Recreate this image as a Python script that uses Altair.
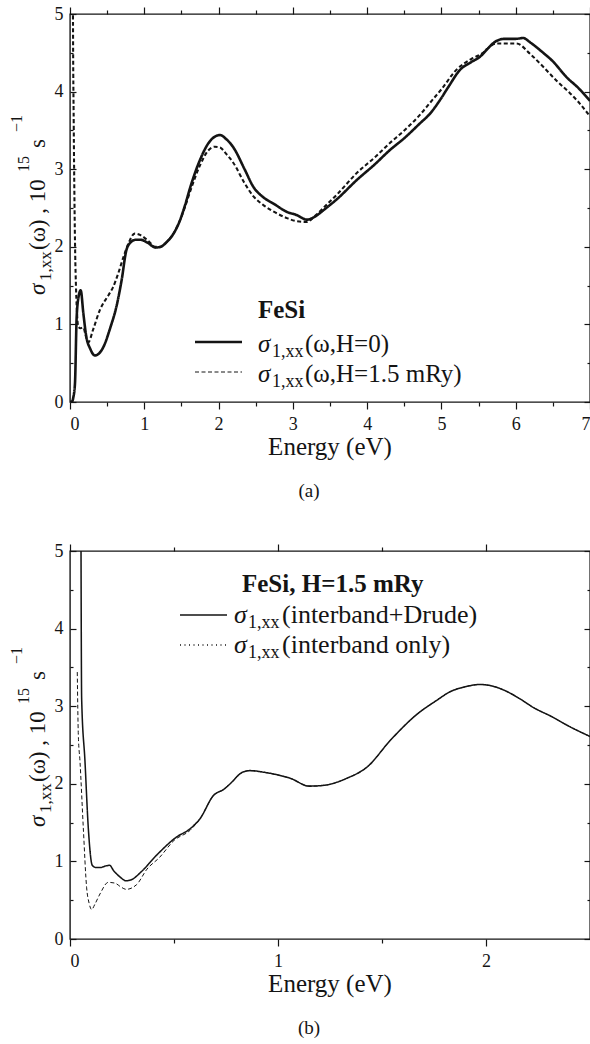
import altair as alt
import pandas as pd

# ---------------- values ----------------
# (a) FeSi : sigma_1,xx(omega) for H = 0 and H = 1.5 mRy
a_h0_energy = [0.0, 0.03, 0.045, 0.067, 0.09, 0.12, 0.144, 0.18, 0.22, 0.27, 0.336, 0.45, 0.54, 0.63, 0.695,
               0.76, 0.82, 0.88, 0.95, 1.05, 1.15, 1.22, 1.30, 1.40, 1.48, 1.55, 1.62, 1.75, 1.86, 1.95,
               2.02, 2.1, 2.2, 2.35, 2.47, 2.6, 2.75, 2.92, 3.05, 3.19, 3.3, 3.41, 3.6, 3.86, 4.1,
               4.31, 4.5, 4.71, 4.85, 4.98, 5.1, 5.25, 5.4, 5.52, 5.62, 5.72, 5.85, 6.0, 6.1, 6.2,
               6.37, 6.5, 6.68, 6.85, 7.0]
a_h0_sigma = [0.0, 0.01, 0.06, 0.24, 1.10, 1.38, 1.44, 1.14, 0.84, 0.69, 0.60, 0.71, 0.95, 1.25, 1.57,
              1.96, 2.06, 2.09, 2.09, 2.05, 1.99, 2.0, 2.06, 2.18, 2.34, 2.54, 2.77, 3.12, 3.33, 3.42,
              3.44, 3.39, 3.28, 3.0, 2.77, 2.64, 2.55, 2.45, 2.41, 2.35, 2.39, 2.47, 2.62, 2.86, 3.06,
              3.25, 3.40, 3.59, 3.72, 3.89, 4.07, 4.28, 4.38, 4.45, 4.55, 4.64, 4.68, 4.68, 4.69, 4.63,
              4.50, 4.39, 4.19, 4.04, 3.88]
a_h15_energy = [0.034, 0.04, 0.05, 0.06, 0.07, 0.08, 0.09, 0.11, 0.14, 0.18, 0.21, 0.247, 0.31, 0.40, 0.52,
                0.58, 0.65, 0.72, 0.79, 0.87, 0.95, 1.05, 1.15, 1.22, 1.30, 1.40, 1.48, 1.55, 1.62, 1.75,
                1.86, 1.95, 2.02, 2.1, 2.2, 2.35, 2.47, 2.6, 2.75, 2.92, 3.05, 3.19, 3.3, 3.41, 3.6,
                3.86, 4.1, 4.31, 4.5, 4.71, 4.85, 5.0, 5.2, 5.4, 5.56, 5.65, 5.74, 5.9, 6.01, 6.2,
                6.37, 6.55, 6.73, 6.85, 7.0]
a_h15_sigma = [8.0, 5.0, 3.6, 2.6, 1.9, 1.5, 1.23, 0.98, 0.95, 0.96, 0.86, 0.77, 0.93, 1.18, 1.38,
               1.48, 1.66, 1.87, 2.05, 2.17, 2.15, 2.08, 2.0, 2.0, 2.06, 2.18, 2.34, 2.52, 2.72, 3.05,
               3.24, 3.29, 3.28, 3.2, 3.08, 2.82, 2.65, 2.54, 2.45, 2.37, 2.33, 2.32, 2.40, 2.50, 2.68,
               2.95, 3.15, 3.34, 3.50, 3.70, 3.86, 4.03, 4.28, 4.42, 4.50, 4.58, 4.62, 4.62, 4.62, 4.48,
               4.32, 4.14, 3.98, 3.86, 3.68]

# (b) FeSi, H = 1.5 mRy : interband + Drude and interband only
b_full_energy = [0.050, 0.053, 0.056, 0.072, 0.088, 0.107, 0.125, 0.144, 0.17, 0.19, 0.21, 0.24, 0.27, 0.30, 0.34,
                 0.42, 0.51, 0.577, 0.625, 0.69, 0.74, 0.77, 0.83, 0.865, 0.93, 0.99, 1.06, 1.15, 1.22, 1.33,
                 1.43, 1.54, 1.67, 1.76, 1.83, 1.90, 1.97, 2.03, 2.10, 2.16, 2.23, 2.32, 2.40, 2.50]
b_full_sigma = [9.0, 5.0, 3.1, 2.29, 1.43, 0.95, 0.92, 0.92, 0.94, 0.95, 0.88, 0.80, 0.75, 0.77, 0.86,
                1.09, 1.31, 1.42, 1.55, 1.85, 1.93, 2.0, 2.15, 2.17, 2.15, 2.12, 2.07, 1.97, 1.98, 2.07,
                2.22, 2.56, 2.90, 3.07, 3.19, 3.25, 3.28, 3.26, 3.19, 3.10, 2.98, 2.86, 2.74, 2.61]
b_inter_energy = [0.035, 0.04, 0.048, 0.064, 0.08, 0.092, 0.104, 0.12, 0.144, 0.184, 0.216, 0.245, 0.27, 0.32, 0.37,
                  0.43, 0.50, 0.577, 0.625, 0.69, 0.74, 0.77, 0.83, 0.865, 0.93, 0.99, 1.06, 1.15, 1.22, 1.33,
                  1.43, 1.54, 1.67, 1.76, 1.83, 1.90, 1.97, 2.03, 2.10, 2.16, 2.23, 2.32, 2.40, 2.50]
b_inter_sigma = [3.44, 2.63, 2.29, 1.43, 0.66, 0.46, 0.38, 0.45, 0.58, 0.73, 0.72, 0.67, 0.64, 0.70, 0.90,
                 1.05, 1.27, 1.40, 1.55, 1.85, 1.93, 2.0, 2.15, 2.17, 2.15, 2.12, 2.07, 1.97, 1.98, 2.07,
                 2.22, 2.56, 2.90, 3.07, 3.19, 3.25, 3.28, 3.26, 3.19, 3.10, 2.98, 2.86, 2.74, 2.61]

a_xmajor = [0, 1, 2, 3, 4, 5, 6, 7]
a_xminor = [0.5, 1.5, 2.5, 3.5, 4.5, 5.5, 6.5]
b_xmajor = [0, 1, 2]
b_xminor = [0.5, 1.5]
y_major = [0, 1, 2, 3, 4, 5]
y_minor = [0.5, 1.5, 2.5, 3.5, 4.5]

# ---------------- styling ----------------
FONT = "Liberation Serif"
INK = "#141414"
W, H = 520, 388
ONE = alt.Data(values=[{}])


def long_df(pairs):
    frames = []
    for name, e, s in pairs:
        frames.append(pd.DataFrame({"E": e, "S": s, "series": name}))
    return pd.concat(frames, ignore_index=True)


def T(s, x, y, size=25, weight="normal", style="normal", angle=0, align="left"):
    return alt.Chart(ONE).mark_text(
        text=s, font=FONT, fontSize=size, fontWeight=weight, fontStyle=style,
        angle=angle, align=align, baseline="alphabetic", color=INK
    ).encode(x=alt.value(x), y=alt.value(y))


def seg(x1, x2, y, dash, width):
    return alt.Chart(ONE).mark_rule(color=INK, strokeDash=dash, strokeWidth=width).encode(
        x=alt.value(x1), x2=alt.value(x2), y=alt.value(y))


def ytitle(dy):
    # sigma_{1,xx}(omega) , 10^{15} s^{-1}, read bottom-to-top (start of each run = its bottom)
    return [
        T("σ", -25, 281 + dy, 23, style="italic", angle=270),
        T("1,xx", -19, 267 + dy, 17, angle=270),
        T("(ω) , 10", -25, 236 + dy, 23, angle=270),
        T("15", -41, 158 + dy, 16, angle=270),
        T("s", -25, 134 + dy, 23, angle=270),
        T("−1", -48, 118 + dy, 16, angle=270),
    ]


def panel(df, xmax, xmajor, xminor, dom, dashes, widths, extra):
    xs = alt.Scale(domain=[0, xmax], nice=False, zero=False)
    ys = alt.Scale(domain=[0, 5], nice=False, zero=False)
    curves = alt.Chart(df).mark_line(clip=True, interpolate="monotone", color=INK).encode(
        x=alt.X("E:Q", scale=xs, axis=alt.Axis(orient="bottom", values=xmajor, tickSize=7, labelPadding=6,
                                                domain=False, grid=False, title=None, format="d")),
        y=alt.Y("S:Q", scale=ys, axis=alt.Axis(orient="left", values=y_major, ticks=False, tickSize=0,
                                                labelPadding=7, domain=False, grid=False, title=None,
                                                format="d")),
        strokeDash=alt.StrokeDash("series:N", scale=alt.Scale(domain=dom, range=dashes), legend=None),
        strokeWidth=alt.StrokeWidth("series:N", scale=alt.Scale(domain=dom, range=widths), legend=None),
    )
    box = pd.DataFrame({"E": [0, xmax], "S": [0, 5]})

    def ax(orient, values, size, offset=0):
        return alt.Axis(orient=orient, values=values, tickSize=size, labels=False, domain=False,
                        grid=False, title=None, offset=offset, ticks=True)

    specs = [
        (ax("top", xmajor, 7), ax("right", y_major, 6, -W)),
        (ax("bottom", xminor, 4), ax("right", y_minor, 3, -W)),
        (ax("top", xminor, 4), ax("left", y_major, 6, -W)),
        (None, ax("left", y_minor, 3, -W)),
    ]
    tick_layers = [
        alt.Chart(box).mark_point(opacity=0).encode(
            x=alt.X("E:Q", scale=xs, axis=xa), y=alt.Y("S:Q", scale=ys, axis=ya))
        for xa, ya in specs
    ]
    return alt.layer(curves, *tick_layers, *extra).resolve_scale(
        x="independent", y="independent").properties(width=W, height=H)


df_a = long_df([("H=0", a_h0_energy, a_h0_sigma), ("H=1.5", a_h15_energy, a_h15_sigma)])
df_b = long_df([("inter", b_inter_energy, b_inter_sigma), ("full", b_full_energy, b_full_sigma)])

extra_a = ytitle(0) + [
    T("FeSi", 188, 304, 25, weight="bold"),
    seg(125, 172, 328, [1, 0], 2.6),
    seg(125, 172, 358, [4, 2.5], 1.0),
    T("σ", 188, 338, 25, style="italic"),
    T("1,xx", 202, 343, 18),
    T("(ω,H=0)", 235, 338, 25),
    T("σ", 188, 368, 25, style="italic"),
    T("1,xx", 202, 373, 18),
    T("(ω,H=1.5 mRy)", 235, 368, 25),
    T("Energy (eV)", 260, 441, 25, align="center"),
    T("(a)", 239, 483, 19, align="center"),
]

extra_b = ytitle(-5) + [
    T("FeSi, H=1.5 mRy", 172, 41, 25, weight="bold"),
    seg(110, 157, 64, [1, 0], 1.4),
    seg(110, 157, 94, [1, 3.5], 1.5),
    T("σ", 164, 72, 26, style="italic"),
    T("1,xx", 178, 77, 18),
    T("(interband+Drude)", 212, 72, 26),
    T("σ", 164, 102, 26, style="italic"),
    T("1,xx", 178, 107, 18),
    T("(interband only)", 212, 102, 26),
    T("Energy (eV)", 260, 441, 25, align="center"),
    T("(b)", 239, 483, 19, align="center"),
]

pa = panel(df_a, 7, a_xmajor, a_xminor, ["H=0", "H=1.5"], [[1, 0], [4, 2.5]], [2.6, 1.0], extra_a)
pb = panel(df_b, 2.5, b_xmajor, b_xminor, ["full", "inter"], [[1, 0], [1, 3.5]], [1.4, 1.5], extra_b)

chart = alt.vconcat(pa, pb, spacing=149, bounds="flush").properties(
    autosize=alt.AutoSizeParams(type="none"),
    padding={"left": 70, "top": 14, "right": 0, "bottom": 1030}
).configure_view(stroke=INK, strokeWidth=1.4).configure_axis(
    labelFont=FONT, labelFontSize=18, labelColor=INK, tickColor=INK, tickWidth=1.2
)

chart.save("out.html", embed_options={"renderer": "svg", "actions": False})
